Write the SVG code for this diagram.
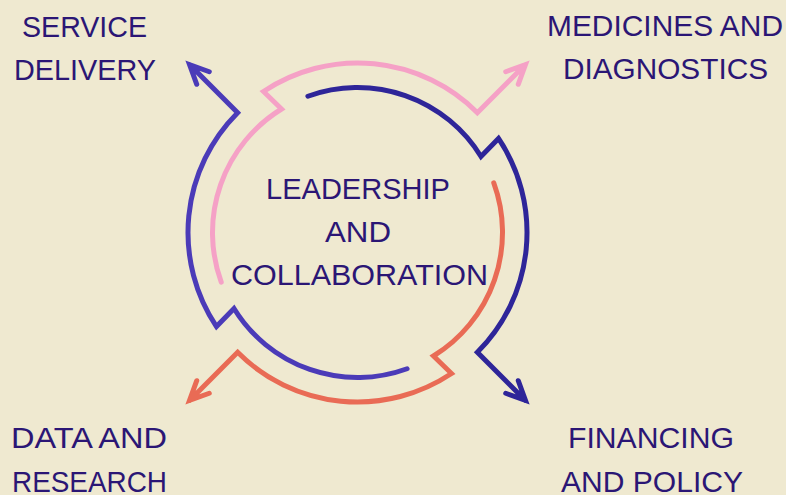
<svg xmlns="http://www.w3.org/2000/svg" width="786" height="495" viewBox="0 0 786 495">
<style>
.arc{fill:none;stroke-width:5;stroke-linecap:round;stroke-linejoin:miter;stroke-miterlimit:10}
.lbl{font-family:"Liberation Sans",Arial,sans-serif;font-size:29px;fill:#2B1675;text-anchor:middle}
</style>
<defs>
<path id="cycleArc" d="M -49.59 -136.26 A 145 145 0 0 1 123.50 -75.98 L 141.02 -94.05 A 169.5 169.5 0 0 1 119.85 119.85 L 167.94 167.94 M 148.21 160.76 L 167.94 167.94 L 160.76 148.21"/>
</defs>
<rect width="786" height="495" fill="#EFE9D0"/>
<g id="connectors">
<use href="#cycleArc" class="arc" stroke="#F5A1C6" transform="translate(357.5 232.5) rotate(-90)"/>
<use href="#cycleArc" class="arc" stroke="#2E2599" transform="translate(357.5 232.5)"/>
<use href="#cycleArc" class="arc" stroke="#E96B55" transform="translate(357.5 232.5) rotate(90)"/>
<use href="#cycleArc" class="arc" stroke="#4B3BB8" transform="translate(357.5 232.5) rotate(180)"/>
</g>
<g id="center">
<text class="lbl" x="358" y="199" textLength="184" lengthAdjust="spacingAndGlyphs">LEADERSHIP</text>
<text class="lbl" x="358" y="242" textLength="66" lengthAdjust="spacingAndGlyphs">AND</text>
<text class="lbl" x="359.5" y="285" textLength="257" lengthAdjust="spacingAndGlyphs">COLLABORATION</text>
</g>
<g id="service-delivery">
<text class="lbl" x="84.5" y="37" textLength="125" lengthAdjust="spacingAndGlyphs">SERVICE</text>
<text class="lbl" x="85" y="80" textLength="142" lengthAdjust="spacingAndGlyphs">DELIVERY</text>
</g>
<g id="medicines-diagnostics">
<text class="lbl" x="665" y="36" textLength="236" lengthAdjust="spacingAndGlyphs">MEDICINES AND</text>
<text class="lbl" x="665.5" y="79" textLength="205" lengthAdjust="spacingAndGlyphs">DIAGNOSTICS</text>
</g>
<g id="data-research">
<text class="lbl" x="89" y="448" textLength="156" lengthAdjust="spacingAndGlyphs">DATA AND</text>
<text class="lbl" x="89.5" y="492" textLength="155" lengthAdjust="spacingAndGlyphs">RESEARCH</text>
</g>
<g id="financing-policy">
<text class="lbl" x="651" y="448" textLength="166" lengthAdjust="spacingAndGlyphs">FINANCING</text>
<text class="lbl" x="652" y="492" textLength="182" lengthAdjust="spacingAndGlyphs">AND POLICY</text>
</g>
</svg>
